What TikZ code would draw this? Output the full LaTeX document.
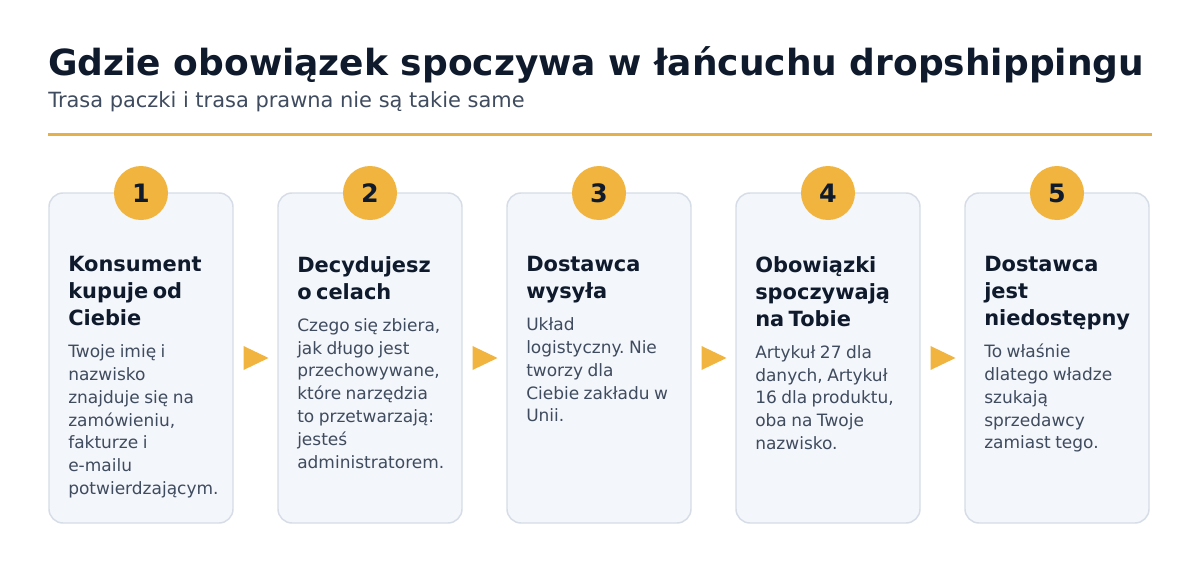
\documentclass[tikz,border=0pt]{standalone}
\usepackage{fontspec}
\setmainfont{DejaVu Sans}
\usetikzlibrary{positioning,calc}
\frenchspacing
\definecolor{ink}{HTML}{0F1B2D}
\definecolor{slate}{HTML}{3F4B5E}
\definecolor{gold}{HTML}{F0B43F}
\definecolor{rulegold}{HTML}{E3B04B}
\definecolor{cardfill}{HTML}{F3F6FA}
\definecolor{cardline}{HTML}{D6DDE7}
\newcommand{\cardhead}{\fontsize{15.7}{20.25}\selectfont\bfseries\color{ink}}
\newcommand{\cardbody}{\fontsize{12.75}{17.1}\selectfont\color{slate}}
\tikzset{
  card/.style={draw=cardline, fill=cardfill, line width=1.1pt, rounded corners=10.5pt,
    minimum width=138pt, minimum height=247.5pt, inner sep=0pt, outer sep=0pt},
  badge/.style={circle, fill=gold, minimum size=40.5pt, inner sep=0pt, text=ink,
    font=\fontsize{19}{19}\selectfont\bfseries},
  cardtext/.style={anchor=north west, inner sep=0pt, text width=128pt, align=left},
}
\begin{document}
\begin{tikzpicture}[x=0.75pt,y=-0.75pt]
  \useasboundingbox[fill=white] (0,0) rectangle (1200,564);
  % title block
  \node[anchor=base west, inner sep=0pt, text=ink, font=\fontsize{27}{32}\selectfont\bfseries] (title) at (48,75) {Gdzie obowiązek spoczywa w łańcuchu dropshippingu};
  \node[anchor=base west, inner sep=0pt, text=slate, font=\fontsize{15.7}{19}\selectfont] (subtitle) at (48,107) {Trasa paczki i trasa prawna nie są takie same};
  \draw[rulegold, line width=2.25pt] (48,134) -- (1152,134);
  % cards
  \node[card, anchor=north west] (c1) at (49,193) {};
  \node[card, right=33.75pt of c1] (c2) {};
  \node[card, right=33.75pt of c2] (c3) {};
  \node[card, right=33.75pt of c3] (c4) {};
  \node[card, right=33.75pt of c4] (c5) {};
  % step numbers
  \node[badge] (b1) at (c1.north) {1};
  \node[badge] (b2) at (c2.north) {2};
  \node[badge] (b3) at (c3.north) {3};
  \node[badge] (b4) at (c4.north) {4};
  \node[badge] (b5) at (c5.north) {5};
  % card texts
  \node[cardtext] (t1) at ($(c1.north west)+(19,63.1)$) {{\cardhead Konsument\\kupuje od\\Ciebie\par}\vspace{6.9pt}{\cardbody Twoje imię i\\nazwisko\\znajduje się na\\zamówieniu,\\fakturze i\\e-mailu\\potwierdzającym.\par}};
  \node[cardtext] (t2) at ($(c2.north west)+(19,63.1)$) {{\cardhead Decydujesz\\o celach\par}\vspace{6.9pt}{\cardbody Czego się zbiera,\\jak długo jest\\przechowywane,\\które narzędzia\\to przetwarzają:\\jesteś\\administratorem.\par}};
  \node[cardtext] (t3) at ($(c3.north west)+(19,63.1)$) {{\cardhead Dostawca\\wysyła\par}\vspace{6.9pt}{\cardbody Układ\\logistyczny. Nie\\tworzy dla\\Ciebie zakładu w\\Unii.\par}};
  \node[cardtext] (t4) at ($(c4.north west)+(19,63.1)$) {{\cardhead Obowiązki\\spoczywają\\na Tobie\par}\vspace{6.9pt}{\cardbody Artykuł 27 dla\\danych, Artykuł\\16 dla produktu,\\oba na Twoje\\nazwisko.\par}};
  \node[cardtext] (t5) at ($(c5.north west)+(19,63.1)$) {{\cardhead Dostawca\\jest\\niedostępny\par}\vspace{6.9pt}{\cardbody To właśnie\\dlatego władze\\szukają\\sprzedawcy\\zamiast tego.\par}};
  % arrows between cards
  \coordinate (m1) at ($(c1.east)!0.5!(c2.west)$);
  \coordinate (m2) at ($(c2.east)!0.5!(c3.west)$);
  \coordinate (m3) at ($(c3.east)!0.5!(c4.west)$);
  \coordinate (m4) at ($(c4.east)!0.5!(c5.west)$);
  \fill[gold] (m1) ++(-12,-12) -- ++(25,12) -- ++(-25,12) -- cycle;
  \fill[gold] (m2) ++(-12,-12) -- ++(25,12) -- ++(-25,12) -- cycle;
  \fill[gold] (m3) ++(-12,-12) -- ++(25,12) -- ++(-25,12) -- cycle;
  \fill[gold] (m4) ++(-12,-12) -- ++(25,12) -- ++(-25,12) -- cycle;
\end{tikzpicture}
\end{document}
